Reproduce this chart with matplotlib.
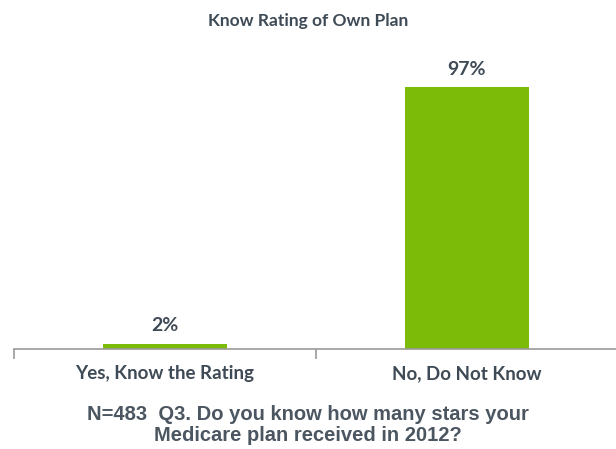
import matplotlib
matplotlib.use('Agg')
import matplotlib.pyplot as plt

# Data
categories = ['Yes, Know the Rating', 'No, Do Not Know']
values = [2, 97]
value_labels = ['2%', '97%']

green = '#7dbb09'
text_color = '#3e4a55'

fig = plt.figure(figsize=(6.16, 4.49), dpi=100)
ax = fig.add_axes([14 / 616, 100 / 449, 604 / 616, 270 / 449])

x = range(len(categories))
ax.bar(x, values, width=0.41, color=green)
ax.set_xlim(-0.5, 1.5)
ax.set_ylim(0, 100)

for xi, v, lab in zip(x, values, value_labels):
    ax.text(xi, v + 3.5, lab, ha='center', va='bottom', fontsize=14,
            fontweight='bold', color=text_color, family='Lato')

# only bottom axis line with category boundary ticks
for s in ['top', 'left', 'right']:
    ax.spines[s].set_visible(False)
ax.spines['bottom'].set_color('#9a9a9a')
ax.spines['bottom'].set_linewidth(1.2)
ax.set_yticks([])
ax.set_xticks([-0.5, 0.5, 1.5])
ax.set_xticklabels([])
ax.tick_params(axis='x', length=7, width=1.2, color='#9a9a9a', direction='out')

for xi, cat in zip(x, categories):
    ax.text(xi, -6, cat, ha='center', va='top', fontsize=13.5,
            fontweight='bold', color=text_color, family='Lato',
            clip_on=False)

fig.text(0.5, 1 - 21 / 449, 'Know Rating of Own Plan', ha='center', va='center',
         fontsize=12.5, fontweight='bold', color=text_color, family='Lato')

fig.text(0.5, 1 - 425 / 449,
         'N=483  Q3. Do you know how many stars your\nMedicare plan received in 2012?',
         ha='center', va='center', fontsize=14.5, fontweight='bold',
         color='#4b5661', family='Liberation Sans', linespacing=1.12)

fig.savefig('out.png', dpi=100)
